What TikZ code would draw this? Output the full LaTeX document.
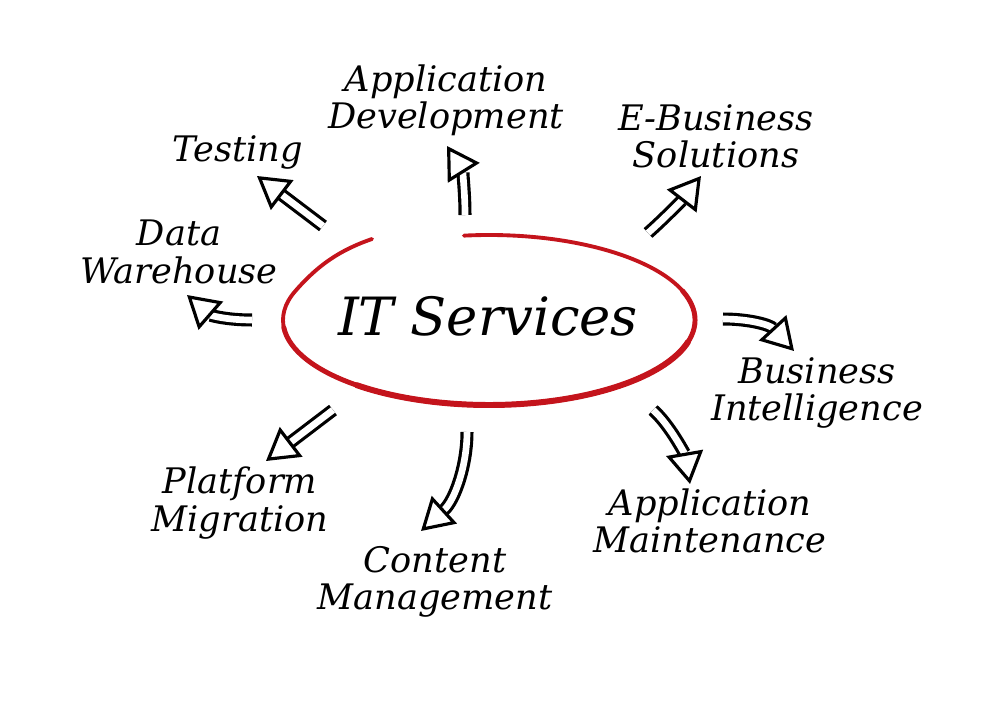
\documentclass[tikz,border=0pt]{standalone}
\usepackage{fontspec}
\setmainfont{DejaVu Serif}
\usetikzlibrary{arrows.meta,positioning}

\definecolor{ringred}{HTML}{C4141C}

\tikzset{
    topic/.style={align=center, inner sep=0pt,
        font=\itshape\fontsize{10}{10.6}\selectfont},
    title/.style={inner sep=0pt, font=\itshape\fontsize{15}{18}\selectfont},
    hollow/.style={draw=black, line width=0.9pt, double=white,
        double distance=1.9pt,
        -{Triangle[fill=white, length=9pt, width=10.5pt, line width=0.9pt]}},
    ring/.style={draw=ringred, line cap=round},
}

\begin{document}
\begin{tikzpicture}[x=0.01cm, y=-0.01cm]
    \useasboundingbox (0,0) rectangle (1000,706);

    % centre and topics
    \node[title] (it) at (488,316) {IT Services};
    \node[topic] (appdev) at (446,100) {Application\\Development};
    \node[topic] (ebiz) at (716,136) {E-Business\\Solutions};
    \node[topic] (test) at (238,152) {Testing};
    \node[topic] (dw) at (179,252) {Data\\Warehouse};
    \node[topic] (bi) at (817,393) {Business\\Intelligence};
    \node[topic] (plat) at (240,503) {Platform\\Migration};
    \node[topic] (cms) at (435,582) {Content\\Management};
    \node[topic] (maint) at (710,521) {Application\\Maintenance};

    % red loop round the centre, heavier towards the bottom
    \draw[ring, line width=1.1pt] (489,320) ++(-97:206 and 85)
        arc[start angle=-97, end angle=200, x radius=206, y radius=85]
        .. controls (318,265) and (340,250) .. (372,239);
    \draw[ring, line width=1.4pt] (489,320) ++(-20:206 and 85)
        arc[start angle=-20, end angle=175, x radius=206, y radius=85];
    \draw[ring, line width=1.7pt] (489,320) ++(15:206 and 85)
        arc[start angle=15, end angle=130, x radius=206, y radius=85];

    % arrow ends
    \coordinate (tTest) at (323,226);  \coordinate (hTest) at (257,176);
    \coordinate (tDw) at (252,320);    \coordinate (hDw) at (187,295);
    \coordinate (tDev) at (465,215);   \coordinate (hDev) at (447,146);
    \coordinate (tEbiz) at (648,233);  \coordinate (hEbiz) at (701,176);
    \coordinate (tBi) at (723,319);    \coordinate (hBi) at (794,351);
    \coordinate (tPlat) at (333,410);  \coordinate (hPlat) at (266,461);
    \coordinate (tCms) at (467,432);   \coordinate (hCms) at (421,531);
    \coordinate (tMaint) at (653,410); \coordinate (hMaint) at (690,484);

    \draw[hollow] (tTest) -- (hTest);
    \draw[hollow] (tDw) .. controls (225,320) and (210,315) .. (hDw);
    \draw[hollow] (tDev) .. controls (465,190) and (462,170) .. (hDev);
    \draw[hollow] (tEbiz) .. controls (665,218) and (684,198) .. (hEbiz);
    \draw[hollow] (tBi) .. controls (750,319) and (770,325) .. (hBi);
    \draw[hollow] (tPlat) -- (hPlat);
    \draw[hollow] (tCms) .. controls (467,465) and (455,500) .. (hCms);
    \draw[hollow] (tMaint) .. controls (670,425) and (685,455) .. (hMaint);
\end{tikzpicture}
\end{document}
